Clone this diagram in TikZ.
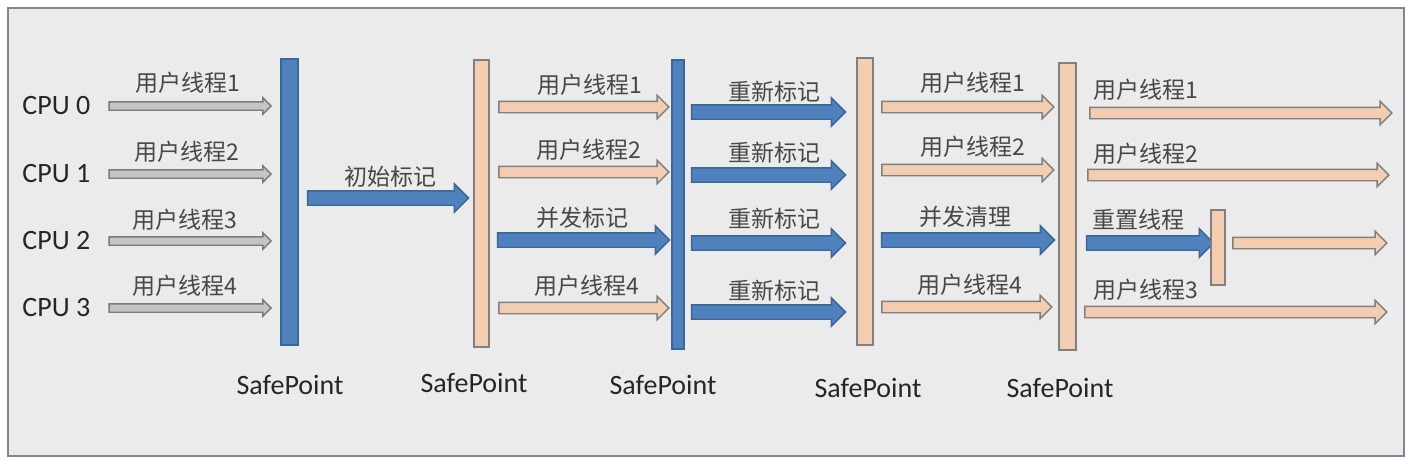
\documentclass[tikz,border=0pt]{standalone}
\usepackage{fontspec}
\setmainfont{Carlito}
\newfontfamily\cjk{Noto Sans CJK SC}
\usetikzlibrary{shapes.arrows}
\definecolor{bg}{HTML}{EBEBEB}
\definecolor{framec}{HTML}{7D8796}
\definecolor{blu}{HTML}{4F81BD}
\definecolor{bluD}{HTML}{3A6699}
\definecolor{pch}{HTML}{F2CDB2}
\definecolor{pchD}{HTML}{7F7F7F}
\definecolor{gryF}{HTML}{C4C4C4}
\definecolor{gryD}{HTML}{7A7A7A}
\definecolor{txt}{HTML}{262626}
\tikzset{
  arrbase/.style={single arrow, inner xsep=0pt, single arrow tip angle=90, line width=0.7pt},
  garrow/.style={arrbase, fill=gryF, draw=gryD, inner ysep=1.75pt, single arrow head extend=2pt},
  parrow/.style={arrbase, fill=pch, draw=pchD, inner ysep=2.5pt, single arrow head extend=3pt},
  barrow/.style={arrbase, fill=blu, draw=bluD, inner ysep=3.25pt, single arrow head extend=3.5pt},
  barbase/.style={rectangle, inner sep=0pt, line width=0.7pt},
  bbar/.style={barbase, fill=blu, draw=bluD},
  pbar/.style={barbase, fill=pch, draw=pchD},
  cpu/.style={font=\fontsize{14pt}{16pt}\selectfont, text=txt, inner sep=0pt},
  lab/.style={font=\cjk\fontsize{11.5pt}{13pt}\selectfont, text=txt!85!white, inner sep=0pt},
  sptext/.style={font=\fontsize{14pt}{16pt}\selectfont, text=txt, inner sep=0pt},
}
\newcommand\blockarr[5]{\node[#1, minimum height={(#4-#3)*0.5pt}] (#2) at ({(#3+#4)/2},#5) {};}
\newcommand\vbar[6]{\node[#1, minimum width={(#4-#3)*0.5pt}, minimum height={(#6-#5)*0.5pt}] (#2) at ({(#3+#4)/2},{(#5+#6)/2}) {};}
\begin{document}
\begin{tikzpicture}[x=0.5pt,y=-0.5pt]
\useasboundingbox (0,0) rectangle (1412,468);
\fill[white] (0,0) rectangle (1412,468);
\draw[fill=bg, draw=framec, line width=0.8pt] (8,8) rectangle (1404,456);
% CPU labels
\node[cpu, anchor=west] (c0) at (22,106) {CPU 0};
\node[cpu, anchor=west] (c1) at (22,174) {CPU 1};
\node[cpu, anchor=west] (c2) at (22,241) {CPU 2};
\node[cpu, anchor=west] (c3) at (22,308) {CPU 3};
% section 1
\blockarr{garrow}{g0}{107}{269}{106}
\blockarr{garrow}{g1}{107}{269}{174}
\blockarr{garrow}{g2}{107}{269}{241}
\blockarr{garrow}{g3}{107}{269}{308}
\node[lab] (l10) at (188,83) {用户线程1};
\node[lab] (l11) at (187,152) {用户线程2};
\node[lab] (l12) at (185,220) {用户线程3};
\node[lab] (l13) at (185,286) {用户线程4};
\vbar{bbar}{sp1}{281}{298}{59}{345}
% initial mark
\blockarr{barrow}{im}{304}{465}{198}
\node[lab] (lim) at (390,177) {初始标记};
\vbar{pbar}{sp2}{474}{489}{60}{347}
% section 2
\blockarr{parrow}{a20}{496}{666}{107}
\blockarr{parrow}{a21}{496}{666}{172}
\blockarr{barrow}{a22}{494}{666}{240}
\blockarr{parrow}{a23}{496}{666}{308}
\node[lab] (l20) at (590,85) {用户线程1};
\node[lab] (l21) at (589,150) {用户线程2};
\node[lab] (l22) at (582,218) {并发标记};
\node[lab] (l23) at (587,286) {用户线程4};
\vbar{bbar}{sp3}{672}{684}{60}{349}
% section 3
\blockarr{barrow}{a30}{688}{842}{112}
\blockarr{barrow}{a31}{688}{842}{175}
\blockarr{barrow}{a32}{688}{842}{243}
\blockarr{barrow}{a33}{688}{842}{312}
\node[lab] (l30) at (774,92) {重新标记};
\node[lab] (l31) at (774,153) {重新标记};
\node[lab] (l32) at (774,219) {重新标记};
\node[lab] (l33) at (774,291) {重新标记};
\vbar{pbar}{sp4}{857}{873}{58}{345}
% section 4
\blockarr{parrow}{a40}{879}{1051}{107}
\blockarr{parrow}{a41}{879}{1051}{170}
\blockarr{barrow}{a42}{878}{1051}{240}
\blockarr{parrow}{a43}{879}{1049}{307}
\node[lab] (l40) at (973,83) {用户线程1};
\node[lab] (l41) at (973,147) {用户线程2};
\node[lab] (l42) at (965,217) {并发清理};
\node[lab] (l43) at (970,285) {用户线程4};
\vbar{pbar}{sp5}{1059}{1076}{63}{350}
% section 5
\blockarr{parrow}{a50}{1087}{1389}{113}
\blockarr{parrow}{a51}{1085}{1386}{175}
\blockarr{barrow}{a52}{1083}{1210}{243}
\vbar{pbar}{rb}{1211}{1225}{210}{285}
\blockarr{parrow}{a53}{1230}{1384}{243}
\blockarr{parrow}{a54}{1082}{1384}{312}
\node[lab, anchor=west] (l50) at (1093,90) {用户线程1};
\node[lab, anchor=west] (l51) at (1093,154) {用户线程2};
\node[lab, anchor=west] (l52) at (1092,220) {重置线程};
\node[lab, anchor=west] (l53) at (1093,290) {用户线程3};
% SafePoint labels
\node[sptext] (s1) at (290,385) {SafePoint};
\node[sptext] (s2) at (474,383) {SafePoint};
\node[sptext] (s3) at (663,385) {SafePoint};
\node[sptext] (s4) at (868,388) {SafePoint};
\node[sptext] (s5) at (1060,388) {SafePoint};
\end{tikzpicture}
\end{document}
